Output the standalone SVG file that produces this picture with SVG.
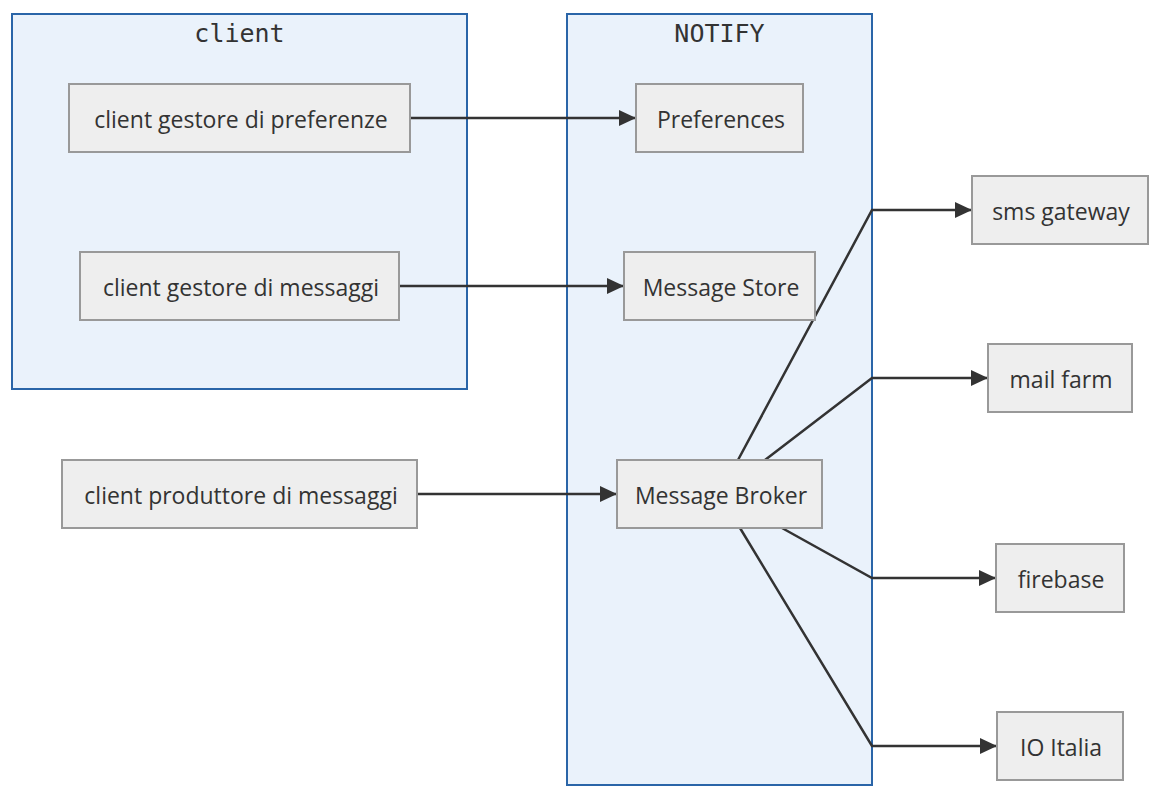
<svg xmlns="http://www.w3.org/2000/svg" width="1160" height="808" viewBox="0 0 1160 808">
<style>
.cluster{fill:#eaf2fb;stroke:#2a65a8;stroke-width:2}
.ctitle{font-family:"DejaVu Sans Mono",monospace;font-size:25px;fill:#333;text-anchor:middle}
.node rect{fill:#eeeeee;stroke:#999999;stroke-width:2}
.node text{font-family:"Open Sans","DejaVu Sans",sans-serif;font-size:23px;fill:#333;text-anchor:middle;dominant-baseline:central}
.edge{fill:none;stroke:#333;stroke-width:2.5;marker-end:url(#arr)}
</style>
<defs>
<marker id="arr" markerWidth="17" markerHeight="16" refX="17" refY="8" orient="auto" markerUnits="userSpaceOnUse">
<path d="M0,0 L17,8 L0,16 z" fill="#333"/>
</marker>
</defs>
<rect width="1160" height="808" fill="#fff"/>
<g id="cluster-client">
<rect class="cluster" x="12" y="14" width="455" height="375"/>
<text class="ctitle" x="239.5" y="42">client</text>
</g>
<g id="cluster-notify">
<rect class="cluster" x="567" y="14" width="305" height="771"/>
<text class="ctitle" x="719.5" y="42">NOTIFY</text>
</g>
<g id="edges">
<path class="edge" d="M410,118 L636,118"/>
<path class="edge" d="M399,286 L624,286"/>
<path class="edge" d="M417,494 L617,494"/>
<path class="edge" d="M738,460 L872,210 L972,210"/>
<path class="edge" d="M765,460 L872,378 L988,378"/>
<path class="edge" d="M782,528 L872,578 L996,578"/>
<path class="edge" d="M740,528 L872,746 L997,746"/>
</g>
<g id="n-cgp" class="node"><rect x="69" y="84" width="341" height="68"/><text x="241" y="119">client gestore di preferenze</text></g>
<g id="n-pref" class="node"><rect x="636" y="84" width="167" height="68"/><text x="721" y="119">Preferences</text></g>
<g id="n-cgm" class="node"><rect x="80" y="252" width="319" height="68"/><text x="241" y="287">client gestore di messaggi</text></g>
<g id="n-store" class="node"><rect x="624" y="252" width="191" height="68"/><text x="721" y="287">Message Store</text></g>
<g id="n-cpm" class="node"><rect x="62" y="460" width="355" height="68"/><text x="241" y="495">client produttore di messaggi</text></g>
<g id="n-broker" class="node"><rect x="617" y="460" width="205" height="68"/><text x="721" y="495">Message Broker</text></g>
<g id="n-sms" class="node"><rect x="972" y="176" width="176" height="68"/><text x="1061" y="211">sms gateway</text></g>
<g id="n-mail" class="node"><rect x="988" y="344" width="144" height="68"/><text x="1061" y="379">mail farm</text></g>
<g id="n-fire" class="node"><rect x="996" y="544" width="128" height="68"/><text x="1061" y="579">firebase</text></g>
<g id="n-io" class="node"><rect x="997" y="712" width="126" height="68"/><text x="1061" y="747">IO Italia</text></g>
</svg>
